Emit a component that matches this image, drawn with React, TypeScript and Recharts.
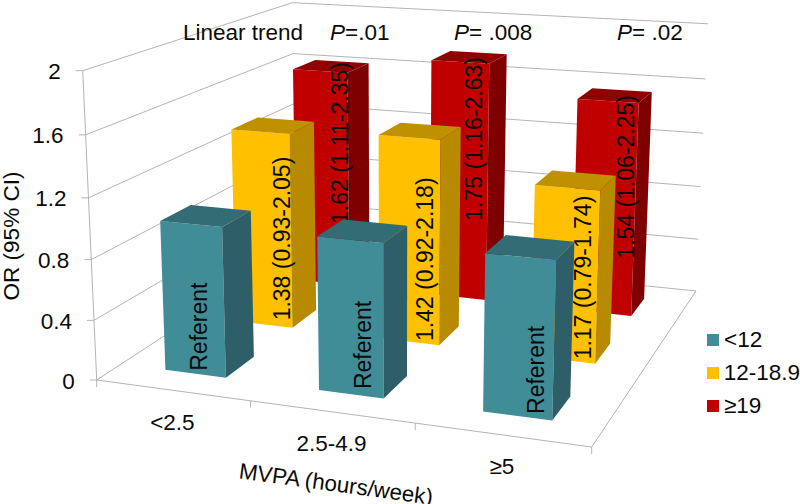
import React from "react";
import { BarChart, Bar, XAxis, YAxis, Legend } from "recharts";

const categories = ["<2.5", "2.5-4.9", "≥5"];
const lowValues = [1, 1, 1];
const midValues = [1.38, 1.42, 1.17];
const highValues = [1.62, 1.75, 1.54];
const lowLabels = ["Referent", "Referent", "Referent"];
const midLabels = ["1.38 (0.93-2.05)", "1.42 (0.92-2.18)", "1.17 (0.79-1.74)"];
const highLabels = ["1.62 (1.11-2.35)", "1.75 (1.16-2.63)", "1.54 (1.06-2.25)"];
const yTicks = [0, 0.4, 0.8, 1.2, 1.6, 2];
const legendOrder = ["<12", "12-18.9", "≥19"];

const W = 800;
const H = 504;
const PLOT_LEFT = 1;
const PLOT_W = W - 1;
const PLOT_H = H - 1;
const Y_MAX = 2;
const FONT = "'Liberation Sans', Arial, sans-serif";
const GRID = "#b4b4b4";
const FS = 22.5;

const chartData = categories.map((c, i) => ({
  category: c,
  low: lowValues[i],
  mid: midValues[i],
  high: highValues[i],
  lowLabel: lowLabels[i],
  midLabel: midLabels[i],
  highLabel: highLabels[i],
}));

// ---- one-off projection of the 3D box to the screen ----
const A = [96.7, 380];
const B = [591.7, 447];
const C = [696, 291];
const D = [296, 250];
const VANISH = [395, 6980];
const TOP_A_Y = 70.7;

const dx1 = B[0] - C[0], dx2 = D[0] - C[0], sx = A[0] - B[0] + C[0] - D[0];
const dy1 = B[1] - C[1], dy2 = D[1] - C[1], sy = A[1] - B[1] + C[1] - D[1];
const det = dx1 * dy2 - dx2 * dy1;
const g = (sx * dy2 - dx2 * sy) / det;
const h = (dx1 * sy - sx * dy1) / det;
const a = B[0] - A[0] + g * B[0];
const b = D[0] - A[0] + h * D[0];
const d = B[1] - A[1] + g * B[1];
const e = D[1] - A[1] + h * D[1];
const kz = (TOP_A_Y - A[1]) / (Y_MAX * (VANISH[1] - TOP_A_Y));

function project(u: number, w: number, z: number): [number, number] {
  const t = z * kz;
  const X = a * u + b * w + A[0] + t * VANISH[0];
  const Y = d * u + e * w + A[1] + t * VANISH[1];
  const Q = g * u + h * w + 1 + t;
  return [X / Q, Y / Q];
}
const path = (pts: [number, number][]) => pts.map((p) => p.map((n) => n.toFixed(1)).join(",")).join(" ");

const valueOfPixel = (py: number) => ((PLOT_H - py) / PLOT_H) * Y_MAX;
const uOfPixel = (px: number) => (px - PLOT_LEFT) / PLOT_W;

// ---- bar prism ----
type Tone = { front: string; side: string; top: string };
const tones: Tone[] = [
  { front: "#408c97", side: "#2e5f68", top: "#336c74" },
  { front: "#ffc000", side: "#b88a00", top: "#bf9000" },
  { front: "#c00000", side: "#7f0000", top: "#900000" },
];
// where each hand-placed label sits relative to the bar's front face
const labelNudge = [
  [[3, 58.5], [12, 61], [18, 69]],
  [[18, 25], [16, 40], [20, 8]],
  [[17, -9], [16, -5], [24, -6]],
];
const labelKeys = ["lowLabel", "midLabel", "highLabel"];

function Prism(props: any) {
  const { x, width, height, index, payload, row } = props;
  const u0 = uOfPixel(x);
  const u1 = uOfPixel(x + width);
  const w0 = (row + 0.3) / 3;
  const w1 = (row + 0.7) / 3;
  const z = (height / PLOT_H) * Y_MAX;
  const tone = tones[row];
  const [nx, ny] = labelNudge[row][index];
  const tl = project(u0, w0, z);
  const tr = project(u1, w0, z);
  const bl = project(u0, w0, 0);
  const br = project(u1, w0, 0);
  const lx = (bl[0] + br[0]) / 2 + nx;
  const ly = (tl[1] + tr[1]) / 2 + ny;
  return (
    <g>
      <polygon points={path([bl, br, tr, tl])} fill={tone.front} />
      <polygon points={path([br, project(u1, w1, 0), project(u1, w1, z), tr])} fill={tone.side} />
      <polygon points={path([tl, tr, project(u1, w1, z), project(u0, w1, z)])} fill={tone.top} />
      <text
        x={lx}
        y={ly}
        transform={`rotate(-90 ${lx} ${ly})`}
        textAnchor="end"
        dominantBaseline="central"
        fontFamily={FONT}
        fontSize={23}
        fill="#0a0a0a"
      >
        {payload[labelKeys[row]]}
      </text>
    </g>
  );
}

// ---- walls and floor ----
function Frame() {
  const seg = (p: [number, number], q: [number, number], key: string) => (
    <line key={key} x1={p[0]} y1={p[1]} x2={q[0]} y2={q[1]} stroke={GRID} strokeWidth={1} />
  );
  const lines: React.ReactNode[] = [];
  yTicks.forEach((t) => {
    lines.push(seg(project(0, 0, t), project(0, 1, t), `l${t}`));
    lines.push(seg(project(0, 1, t), project(1, 1, t), `b${t}`));
    const s = project(0, 0, t);
    lines.push(seg(s, [s[0] - 7, s[1]], `t${t}`));
  });
  lines.push(seg(project(0, 0, 0), project(0, 0, Y_MAX), "axis"));
  lines.push(seg(project(0, 0, 0), project(1, 0, 0), "front"));
  lines.push(seg(project(1, 0, 0), project(1, 1, 0), "right"));
  [0, 1, 2, 3].forEach((i) => {
    const s = project(i / 3, 0, 0);
    lines.push(seg(s, [s[0], s[1] + 7], `x${i}`));
  });
  return <g>{lines}</g>;
}

function Annotations() {
  const common = { fontFamily: FONT, fontSize: FS, fill: "#0a0a0a" };
  return (
    <g>
      <text x={183} y={40} {...common}>Linear trend</text>
      <text x={330} y={40} {...common}><tspan fontStyle="italic">P</tspan>=.01</text>
      <text x={454} y={40} {...common}><tspan fontStyle="italic">P</tspan>= .008</text>
      <text x={617} y={40} {...common}><tspan fontStyle="italic">P</tspan>= .02</text>
      <text x={11.5} y={236} transform="rotate(-90 11.5 236)" textAnchor="middle" dominantBaseline="central" {...common}>
        OR (95% CI)
      </text>
      <text x={336} y={484} transform="rotate(7.8 336 484)" textAnchor="middle" dominantBaseline="central" {...common} fontSize={22.3}>
        MVPA (hours/week)
      </text>
    </g>
  );
}

function YTick(props: any) {
  const v = valueOfPixel(props.y);
  const [px, py] = project(0, 0, v);
  return (
    <text x={px - 22} y={py + 1} textAnchor="end" dominantBaseline="central" fontFamily={FONT} fontSize={FS} fill="#0a0a0a">
      {props.payload.value}
    </text>
  );
}

function XTick(props: any) {
  const [px, py] = project(uOfPixel(props.x), 0, 0);
  return (
    <text x={px} y={py + 32} textAnchor="middle" dominantBaseline="central" fontFamily={FONT} fontSize={FS} fill="#0a0a0a">
      {props.payload.value}
    </text>
  );
}

function LegendBox(props: any) {
  const items = [...(props.payload || [])].sort(
    (p: any, q: any) => legendOrder.indexOf(p.value) - legendOrder.indexOf(q.value)
  );
  return (
    <div style={{ fontFamily: FONT, fontSize: FS, color: "#0a0a0a" }}>
      {items.map((it: any) => (
        <div key={it.value} style={{ display: "flex", alignItems: "center", height: 33, whiteSpace: "nowrap" }}>
          <span style={{ display: "inline-block", width: 12, height: 12, background: it.color, marginRight: 5 }} />
          {it.value}
        </div>
      ))}
    </div>
  );
}

export default function App() {
  return (
    <div style={{ position: "absolute", left: 0, top: 0, background: "#fff" }}>
      <BarChart
        width={W}
        height={H}
        data={chartData}
        barCategoryGap="30%"
        margin={{ top: 0, right: 0, bottom: 0, left: 0 }}
      >
        <XAxis xAxisId="x2" dataKey="category" hide />
        <XAxis xAxisId="x1" dataKey="category" hide />
        <XAxis
          xAxisId="x0"
          dataKey="category"
          height={1}
          interval={0}
          axisLine={false}
          tickLine={false}
          tick={XTick}
        />
        <YAxis
          domain={[0, Y_MAX]}
          ticks={yTicks}
          width={1}
          interval={0}
          axisLine={false}
          tickLine={false}
          tick={YTick}
        />
        <Frame />
        <Annotations />
        <Legend
          layout="vertical"
          align="center"
          verticalAlign="middle"
          wrapperStyle={{ left: 707, top: 323, width: 93 }}
          content={LegendBox}
        />
        <Bar xAxisId="x2" dataKey="high" name="≥19" fill={tones[2].front} isAnimationActive={false}
          shape={(p: any) => <Prism {...p} row={2} />} />
        <Bar xAxisId="x1" dataKey="mid" name="12-18.9" fill={tones[1].front} isAnimationActive={false}
          shape={(p: any) => <Prism {...p} row={1} />} />
        <Bar xAxisId="x0" dataKey="low" name="<12" fill={tones[0].front} isAnimationActive={false}
          shape={(p: any) => <Prism {...p} row={0} />} />
      </BarChart>
    </div>
  );
}
